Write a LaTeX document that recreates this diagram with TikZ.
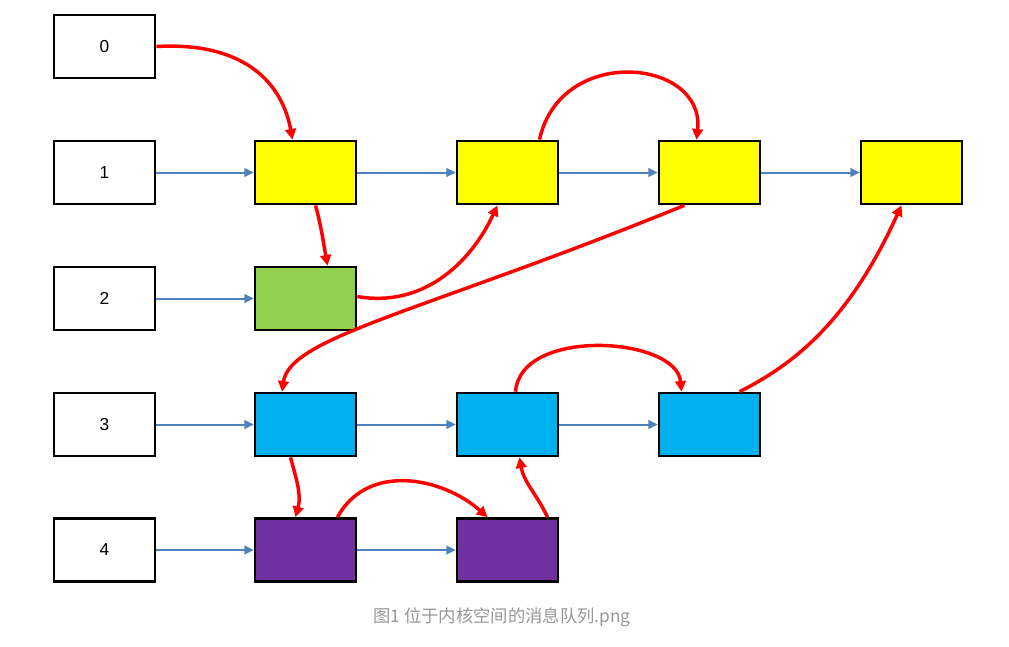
\documentclass[tikz,border=0pt]{standalone}
\usepackage{fontspec}
\setmainfont{Liberation Sans}
\newfontfamily\cjkfont{Noto Sans CJK SC}
\usetikzlibrary{arrows.meta}
\usetikzlibrary{calc}

\begin{document}
\begin{tikzpicture}[x=0.75pt,y=0.75pt,yscale=-1,xscale=1,
  idx/.style={draw,line width=2pt,fill=white,minimum width=75.75pt,minimum height=47.25pt,inner sep=0pt,font=\fontsize{13}{15}\selectfont},
  nxt/.style={draw={rgb, 255:red, 79; green, 129; blue, 189},line width=1.5pt,-{Triangle[length=7pt,width=6.5pt]}},
  jmp/.style={draw=red,line width=2.6pt,-{Triangle[length=8pt,width=8pt]}}]
\useasboundingbox (0,0) rectangle (1009,646);

%Shape: Rectangle [index column]
\node [idx] (i0) at (104.5,46.5) {0};
\node [idx] (i1) at (104.5,172.5) {1};
\node [idx] (i2) at (104.5,298.5) {2};
\node [idx] (i3) at (104.5,424.5) {3};
\node [idx] (i4) at (104.5,550) {4};

%Shape: Rectangle [messages]
\node [idx, fill={rgb, 255:red, 255; green, 255; blue, 0}] (y1) at (305.5,172.5) {};
\node [idx, fill={rgb, 255:red, 255; green, 255; blue, 0}] (y2) at (507.5,172.5) {};
\node [idx, fill={rgb, 255:red, 255; green, 255; blue, 0}] (y3) at (709.5,172.5) {};
\node [idx, fill={rgb, 255:red, 255; green, 255; blue, 0}] (y4) at (911.5,172.5) {};
\node [idx, fill={rgb, 255:red, 146; green, 208; blue, 80}] (g1) at (305.5,298.5) {};
\node [idx, fill={rgb, 255:red, 0; green, 176; blue, 240}] (b1) at (305.5,424.5) {};
\node [idx, fill={rgb, 255:red, 0; green, 176; blue, 240}] (b2) at (507.5,424.5) {};
\node [idx, fill={rgb, 255:red, 0; green, 176; blue, 240}] (b3) at (709.5,424.5) {};
\node [idx, fill={rgb, 255:red, 112; green, 48; blue, 160}] (p1) at (305.5,550) {};
\node [idx, fill={rgb, 255:red, 112; green, 48; blue, 160}] (p2) at (507.5,550) {};

%Straight Lines
\draw [nxt] (i1) -- (y1);
\draw [nxt] (y1) -- (y2);
\draw [nxt] (y2) -- (y3);
\draw [nxt] (y3) -- (y4);
\draw [nxt] (i2) -- (g1);
\draw [nxt] (i3) -- (b1);
\draw [nxt] (b1) -- (b2);
\draw [nxt] (b2) -- (b3);
\draw [nxt] (i4) -- (p1);
\draw [nxt] (p1) -- (p2);

%Curve Lines (angles are mirrored by yscale=-1)
\draw [jmp] (i0.east) .. controls +(90,-5) and +(-10,-55) .. ($(y1.north)+(-13,0)$);
\draw [jmp] ($(y1.south)+(10,0)$) to[out=75,in=-100] ($(g1.north)+(22,0)$);
\draw [jmp] ($(g1.east)+(0,-2)$) to[out=10,in=115] ($(y2.south)+(-10,0)$);
\draw [jmp] ($(y2.north)+(32,0)$) .. controls +(21,-96) and +(9,-81) .. ($(y3.north)+(-13,0)$);
\draw [jmp] ($(y3.south)+(-25,0)$) .. controls +(-260,106) and +(8,-55) .. ($(b1.north)+(-23.5,0)$);
\draw [jmp] ($(b3.north)+(30,0)$) .. controls +(60,-30) and +(-50,110) .. ($(y4.south)+(-10,0)$);
\draw [jmp] ($(b2.north)+(8,0)$) .. controls +(5,-65) and +(-5,-55) .. ($(b3.north)+(-28,0)$);
\draw [jmp] ($(b1.south)+(-15,0)$) to[out=75,in=-75] ($(p1.north)+(-10,0)$);
\draw [jmp] ($(p1.north)+(32,0)$) .. controls +(30,-55) and +(-45,-40) .. ($(p2.north)+(-20,0)$);
\draw [jmp] ($(p2.north)+(40,0)$) to[out=-115,in=80] ($(b2.south)+(12,0)$);

% Text Node
\node [text={rgb, 255:red, 150; green, 150; blue, 150}, font=\fontsize{13}{15}\selectfont] (cap) at (502,617) {\cjkfont 图1 位于内核空间的消息队列.png};

\end{tikzpicture}
\end{document}
